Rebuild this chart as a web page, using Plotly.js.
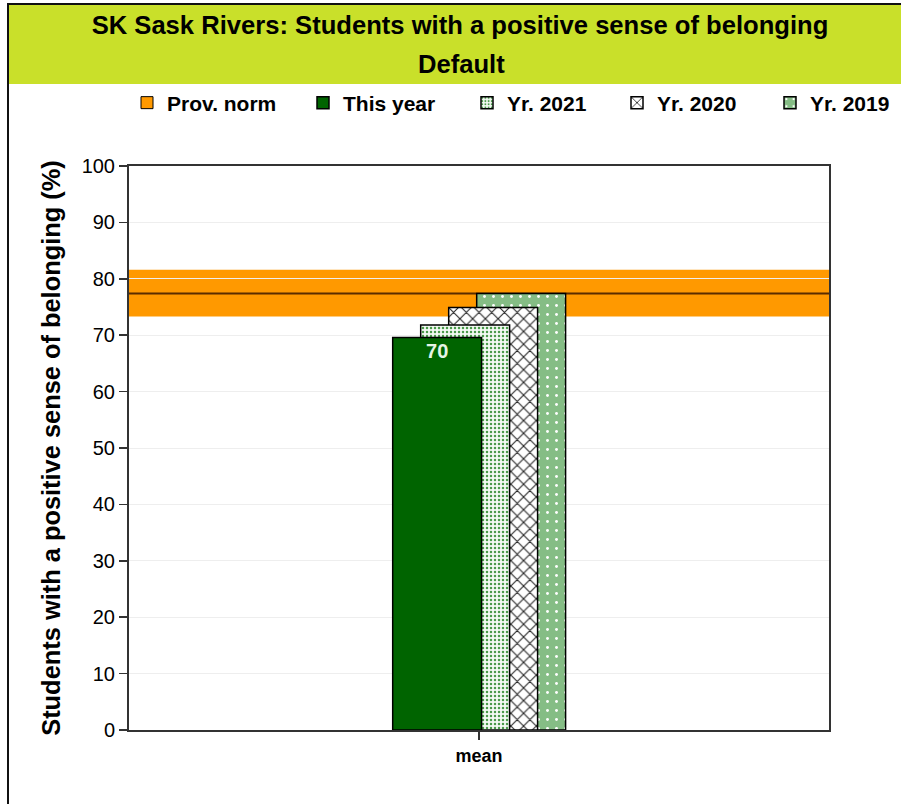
<!DOCTYPE html>
<html><head><meta charset="utf-8">
<script src="https://cdn.plot.ly/plotly-3.0.1.min.js"></script>
<style>html,body{margin:0;padding:0;background:#fff;} #chart{width:901px;height:804px;}</style>
</head><body><div id="chart"></div>
<script>
// ---- data ----
const categories = ['mean'];
const thisYear = [69.6];
const yr2021 = [71.8];
const yr2020 = [74.9];
const yr2019 = [77.4];
const provNorm = [77.4];
const provNormLow = [73.3];
const provNormHigh = [81.6];
const seriesNames = ['Prov. norm', 'This year', 'Yr. 2021', 'Yr. 2020', 'Yr. 2019'];
const yTickVals = [0, 10, 20, 30, 40, 50, 60, 70, 80, 90, 100];
const titleText = 'SK Sask Rivers: Students with a positive sense of belonging';
const subtitleText = 'Default';
const yTitleText = 'Students with a positive sense of belonging (%)';

// ---- geometry helpers ----
const W = 901, H = 804;
const M = {l: 129, r: 72, t: 166, b: 74, autoexpand: false};
const PW = W - M.l - M.r, PH = H - M.t - M.b;
const px = x => (x - M.l) / PW;
const py = y => (H - M.b - y) / PH;

const FONT = 'Liberation Sans, Arial, sans-serif';
const barW = 0.127;
const step = 0.04;
const firstOffset = -0.1233;
const outline = {color: '#000000', width: 1.5};

const legendFont = {family: FONT, size: 21, color: '#000', weight: 'bold'};
function legendAt(textStartPx) {
  return {x: px(textStartPx - 40), xanchor: 'left', y: py(103), yanchor: 'middle',
    orientation: 'h', bgcolor: 'rgba(0,0,0,0)', borderwidth: 0, font: legendFont,
    itemclick: false, itemdoubleclick: false};
}

const traces = [
  {type: 'bar', name: seriesNames[0], x: categories, y: [null], legend: 'legend',
   marker: {color: '#ff9900', line: {color: '#000', width: 1}}, hoverinfo: 'skip'},
  {type: 'bar', name: seriesNames[4], x: categories, y: yr2019, legend: 'legend5',
   width: barW, offset: firstOffset + 3 * step,
   marker: {color: '#85bd85', line: outline,
     pattern: {shape: '.', fgcolor: '#ffffff', bgcolor: '#85bd85', size: 9, solidity: 0.08, fillmode: 'replace'}}},
  {type: 'bar', name: seriesNames[3], x: categories, y: yr2020, legend: 'legend4',
   width: barW, offset: firstOffset + 2 * step,
   marker: {color: '#ffffff', line: outline,
     pattern: {shape: 'x', fgcolor: '#222222', bgcolor: '#ffffff', size: 9, solidity: 0.22, fillmode: 'replace'}}},
  {type: 'bar', name: seriesNames[2], x: categories, y: yr2021, legend: 'legend3',
   width: barW, offset: firstOffset + step,
   marker: {color: '#f2f8f2', line: outline,
     pattern: {shape: '.', fgcolor: '#4a9a4a', bgcolor: '#f4faf4', size: 4, solidity: 0.3, fillmode: 'replace'}}},
  {type: 'bar', name: seriesNames[1], x: categories, y: thisYear, legend: 'legend2',
   width: barW, offset: firstOffset,
   marker: {color: '#006400', line: outline},
   texttemplate: '%{y:.0f}', textposition: 'inside', insidetextanchor: 'end', constraintext: 'none',
   textangle: 0, insidetextfont: {family: FONT, size: 20, color: '#e6f4e6', weight: 'bold'}}
];

const layout = {
  width: W, height: H,
  margin: M,
  paper_bgcolor: '#ffffff', plot_bgcolor: '#ffffff',
  barmode: 'overlay',
  showlegend: true,
  hovermode: false,
  title: {text: titleText, font: {family: FONT, size: 25.6, color: '#000', weight: 'bold'},
    xref: 'paper', x: px(460), xanchor: 'center', yref: 'container', y: 1 - 25 / H, yanchor: 'middle'},
  annotations: [
    {text: subtitleText, xref: 'paper', yref: 'paper', x: px(461), y: py(64), xanchor: 'center', yanchor: 'middle',
     showarrow: false, font: {family: FONT, size: 25.6, color: '#000', weight: 'bold'}}
  ],
  legend: legendAt(167),
  legend2: legendAt(343),
  legend3: legendAt(507),
  legend4: legendAt(657),
  legend5: legendAt(810),
  xaxis: {type: 'category', range: [-0.5, 0.5], showgrid: false, zeroline: false,
    showline: true, linecolor: '#333', linewidth: 2, mirror: true,
    ticks: 'outside', ticklen: 8, tickcolor: '#333', tickwidth: 1.5,
    tickfont: {family: FONT, size: 18, color: '#000', weight: 'bold'}, fixedrange: true, automargin: false},
  yaxis: {range: [0, 100], tickvals: yTickVals, showgrid: true, gridcolor: '#eeeeee', gridwidth: 1,
    zeroline: false, showline: true, linecolor: '#333', linewidth: 2, mirror: true,
    ticks: 'outside', ticklen: 8, tickcolor: '#333', tickwidth: 1.5,
    tickfont: {family: FONT, size: 20, color: '#000'},
    title: {text: yTitleText, font: {family: FONT, size: 25.4, color: '#000', weight: 'bold'}, standoff: 14},
    fixedrange: true, automargin: false},
  shapes: [
    // header band and frame
    {type: 'rect', xref: 'paper', yref: 'paper', x0: px(9), x1: px(905), y0: py(84), y1: py(5),
     fillcolor: '#c9e02a', line: {width: 0}, layer: 'below'},
    {type: 'line', xref: 'paper', yref: 'paper', x0: px(8), x1: px(8), y0: py(806), y1: py(4),
     line: {color: '#111', width: 2}, layer: 'below'},
    {type: 'line', xref: 'paper', yref: 'paper', x0: px(7), x1: px(905), y0: py(4), y1: py(4),
     line: {color: '#111', width: 2}, layer: 'below'},
    // provincial norm band and line
    {type: 'rect', xref: 'paper', yref: 'y', x0: 0, x1: 1, y0: provNormLow[0], y1: provNormHigh[0],
     fillcolor: '#ff9900', line: {width: 0}, layer: 'between'},
    {type: 'line', xref: 'paper', yref: 'y', x0: 0, x1: 1, y0: provNorm[0], y1: provNorm[0],
     line: {color: '#5a2d00', width: 2}, layer: 'between'}
  ]
};

Plotly.newPlot('chart', traces, layout, {displayModeBar: false, staticPlot: true});
</script>
</body></html>
